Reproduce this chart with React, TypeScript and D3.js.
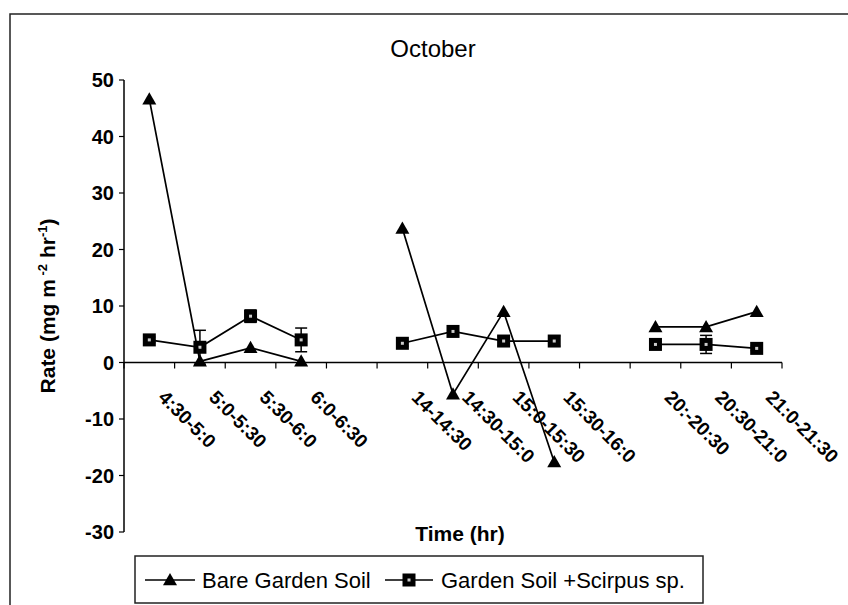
import React from "react";
import * as d3 from "d3";

const categories = [
  "4:30-5:0", "5:0-5:30", "5:30-6:0", "6:0-6:30", "",
  "14-14:30", "14:30-15:0", "15:0-15:30", "15:30-16:0", "",
  "20:-20:30", "20:30-21:0", "21:0-21:30",
];
const bareSoil: (number | null)[] = [46.6, 0.2, 2.6, 0.2, null, 23.7, -5.6, 9.0, -17.6, null, 6.3, 6.3, 9.0];
const scirpus: (number | null)[] = [4.0, 2.7, 8.2, 4.0, null, 3.4, 5.5, 3.8, 3.8, null, 3.2, 3.2, 2.5];
const scirpusErr: (number | null)[] = [0.5, 3.0, 1.1, 2.1, null, 0.5, 0.6, 0.8, 0.9, null, 0.5, 1.6, 0.4];
const yTicks = [50, 40, 30, 20, 10, 0, -10, -20, -30];

const FONT = "Arial, 'Liberation Sans', sans-serif";

export default function App() {
  const W = 848, H = 605;
  const x0 = 124, x1 = 782, yTop = 80, yBot = 532;
  const x = d3.scaleBand<number>().domain(categories.map((_, i) => i)).range([x0, x1]).padding(0);
  const y = d3.scaleLinear().domain([-30, 50]).range([yBot, yTop]);
  const cx = (i: number) => (x(i) as number) + x.bandwidth() / 2;

  const line = d3.line<[number, number | null]>()
    .defined((d) => d[1] !== null)
    .x((d) => cx(d[0]))
    .y((d) => y(d[1] as number));

  const tri = (px: number, py: number, s = 7) =>
    `M${px},${py - s} L${px + s},${py + s * 0.75} L${px - s},${py + s * 0.75} Z`;

  const boundaries = d3.range(categories.length + 1).map((k) => x0 + k * x.step());

  return (
    <svg width={W} height={H} style={{ display: "block", position: "absolute", left: 0, top: 0 }} fontFamily={FONT}>
      <rect x={0} y={0} width={W} height={H} fill="#fff" />
      <rect x={10} y={14} width={900} height={700} fill="none" stroke="#222" strokeWidth={1.5} />
      <text x={433} y={57} textAnchor="middle" fontSize={24}>October</text>

      {/* y axis */}
      <line x1={x0} x2={x0} y1={yTop} y2={yBot} stroke="#000" strokeWidth={1.5} />
      {yTicks.map((t) => (
        <g key={t}>
          <line x1={x0 - 5} x2={x0} y1={y(t)} y2={y(t)} stroke="#000" strokeWidth={1.2} />
          <text x={x0 - 10} y={y(t)} dy="0.36em" textAnchor="end" fontSize={20} fontWeight="bold">{t}</text>
        </g>
      ))}
      <text transform={`translate(55,${(yTop + yBot) / 2}) rotate(-90)`} textAnchor="middle" fontSize={21} fontWeight="bold">
        Rate (mg m<tspan dy={-8} fontSize={13}> -2</tspan><tspan dy={8}> hr</tspan><tspan dy={-8} fontSize={13}>-1</tspan><tspan dy={8}>)</tspan>
      </text>

      {/* x axis */}
      <line x1={x0} x2={x1} y1={y(0)} y2={y(0)} stroke="#000" strokeWidth={1.5} />
      {boundaries.map((b, k) => (
        <line key={k} x1={b} x2={b} y1={y(0)} y2={y(0) + 6} stroke="#000" strokeWidth={1.2} />
      ))}
      {categories.map((c, i) => c && (
        <text key={i} transform={`translate(${cx(i) + 8},${y(0) + 36}) rotate(45)`} fontSize={19} fontWeight="bold">{c}</text>
      ))}
      <text x={460} y={541} textAnchor="middle" fontSize={21} fontWeight="bold">Time (hr)</text>

      {/* Scirpus series */}
      <path d={line(scirpus.map((v, i) => [i, v]))!} fill="none" stroke="#000" strokeWidth={1.7} />
      {scirpus.map((v, i) => {
        const e = scirpusErr[i];
        if (v === null || e === null) return null;
        return (
          <g key={"e" + i} stroke="#000" strokeWidth={1.5}>
            <line x1={cx(i)} x2={cx(i)} y1={y(v + e)} y2={y(v - e)} />
            <line x1={cx(i) - 6} x2={cx(i) + 6} y1={y(v + e)} y2={y(v + e)} />
            <line x1={cx(i) - 6} x2={cx(i) + 6} y1={y(v - e)} y2={y(v - e)} />
          </g>
        );
      })}
      {scirpus.map((v, i) => v === null ? null : (
        <g key={"s" + i}>
          <rect x={cx(i) - 6.5} y={y(v) - 6.5} width={13} height={13} fill="#000" />
          <rect x={cx(i) - 1.5} y={y(v) - 1.5} width={3} height={3} fill="#ccc" />
        </g>
      ))}

      {/* Bare soil series */}
      <path d={line(bareSoil.map((v, i) => [i, v]))!} fill="none" stroke="#000" strokeWidth={1.7} />
      {bareSoil.map((v, i) => v === null ? null : (
        <path key={"t" + i} d={tri(cx(i), y(v))} fill="#000" />
      ))}

      {/* legend */}
      <rect x={135} y={556} width={568} height={47} fill="#fff" stroke="#222" strokeWidth={1.5} />
      <line x1={145} x2={195} y1={580} y2={580} stroke="#000" strokeWidth={1.7} />
      <path d={tri(170, 580)} fill="#000" />
      <text x={202} y={588} fontSize={22}>Bare Garden Soil</text>
      <line x1={385} x2={433} y1={580} y2={580} stroke="#000" strokeWidth={1.7} />
      <rect x={402.5} y={573.5} width={13} height={13} fill="#000" />
      <rect x={407.5} y={578.5} width={3} height={3} fill="#ccc" />
      <text x={441} y={588} fontSize={22}>Garden Soil +Scirpus sp.</text>
    </svg>
  );
}
